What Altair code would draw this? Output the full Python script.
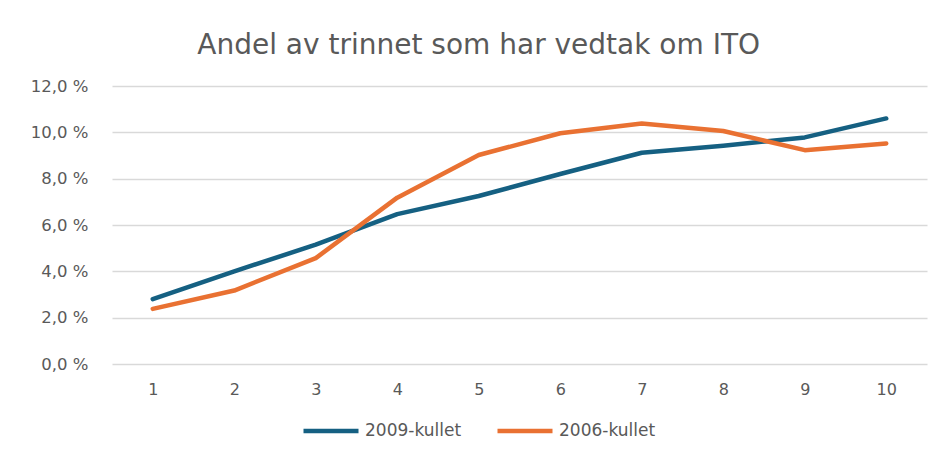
import altair as alt
import pandas as pd

trinn = [1, 2, 3, 4, 5, 6, 7, 8, 9, 10]
kull_2009 = [2.8, 4.0, 5.15, 6.47, 7.25, 8.2, 9.12, 9.42, 9.78, 10.6]
kull_2006 = [2.38, 3.17, 4.57, 7.18, 9.02, 9.96, 10.38, 10.06, 9.23, 9.52]
series = ["2009-kullet", "2006-kullet"]
colors = ["#156082", "#E97132"]

rows = []
for t, a, b in zip(trinn, kull_2009, kull_2006):
    rows.append({"trinn": t, "serie": series[0], "andel": a})
    rows.append({"trinn": t, "serie": series[1], "andel": b})
df = pd.DataFrame(rows)

FONT = "DejaVu Sans"
GREY = "#595959"

chart = alt.Chart(df).mark_line(strokeWidth=4.5, strokeCap="round", strokeJoin="round").encode(
    x=alt.X("trinn:O", title=None,
            scale=alt.Scale(type="point", padding=0.5),
            axis=alt.Axis(labelAngle=0, domain=False, ticks=False, grid=False,
                          labelPadding=17, labelFontSize=16, labelColor=GREY, labelFont=FONT)),
    y=alt.Y("andel:Q", title=None,
            scale=alt.Scale(domain=[0, 12]),
            axis=alt.Axis(values=[0, 2, 4, 6, 8, 10, 12], domain=False, ticks=False,
                          labelExpr="replace(format(datum.value, '.1f'), '.', ',') + ' %'",
                          labelPadding=24, labelFontSize=16.5, labelColor=GREY, labelFont=FONT,
                          gridColor="#d9d9d9", gridWidth=1.5)),
    color=alt.Color("serie:N", title=None,
                    scale=alt.Scale(domain=series, range=colors),
                    legend=alt.Legend(orient="none", direction="horizontal",
                                      legendX=189, legendY=315,
                                      symbolType="stroke", symbolStrokeWidth=4.5,
                                      symbolSize=3025, labelFontSize=17, labelColor=GREY,
                                      labelFont=FONT, columnPadding=26, labelOffset=4)),
).properties(
    width=815,
    height=278,
    padding={"left": 22, "top": 24, "right": 2, "bottom": 4},
    title=alt.Title("Andel av trinnet som har vedtak om ITO", fontSize=28, fontWeight="normal",
                    color=GREY, font=FONT, offset=18, frame="bounds"),
).configure_view(stroke=None)

chart.save("out.html", embed_options={"renderer": "svg", "actions": False})
